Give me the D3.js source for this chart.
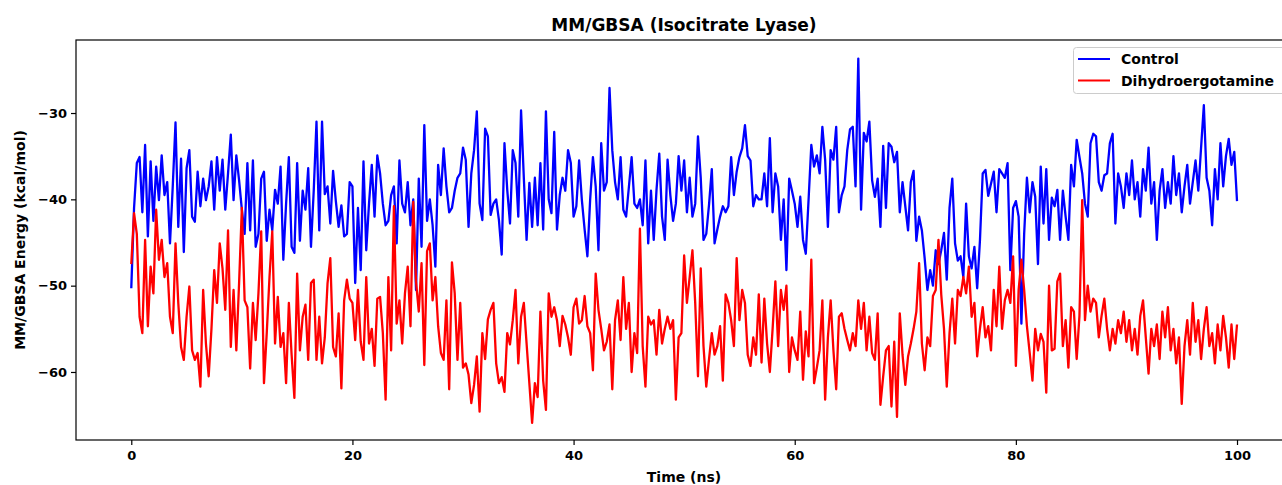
<!DOCTYPE html>
<html><head><meta charset="utf-8">
<script src="https://cdn.jsdelivr.net/npm/d3@7"></script>
<style>
body{margin:0;background:#fff}
svg{display:block}
text{font-family:"DejaVu Sans",sans-serif;font-weight:bold;fill:#000}
</style>
</head><body>
<svg id="chart" width="1282" height="485"></svg>
<script>
const titleText = "MM/GBSA (Isocitrate Lyase)";
const xLabelText = "Time (ns)";
const yLabelText = "MM/GBSA Energy (kcal/mol)";
const seriesNames = ["Control", "Dihydroergotamine"];
const seriesColors = ["#0000ff", "#ff0000"];
const timeStep = 0.25;
const xTicks = [0, 20, 40, 60, 80, 100];
const yTicks = [-30, -40, -50, -60];

const controlValues = [
-50.3,-41.0,-35.8,-35.1,-41.5,-33.7,-44.3,-35.6,-42.5,-36.2,
-40.1,-34.9,-39.5,-38.0,-45.1,-38.5,-31.1,-43.2,-35.3,-46.1,
-36.4,-34.3,-42.0,-42.6,-36.8,-40.8,-37.6,-40.1,-38.5,-35.6,
-41.2,-35.1,-39.0,-35.4,-41.2,-37.0,-32.5,-40.1,-34.9,-37.8,
-41.2,-44.0,-35.8,-43.6,-35.5,-45.5,-44.0,-37.6,-36.8,-44.8,
-41.2,-43.6,-38.9,-40.5,-36.2,-47.0,-40.5,-35.1,-45.5,-46.2,
-35.8,-44.8,-39.0,-41.2,-36.4,-45.5,-39.0,-31.0,-43.6,-31.0,
-39.4,-38.5,-42.8,-36.7,-40.2,-43.2,-40.7,-44.3,-44.0,-38.0,
-38.5,-49.7,-41.0,-48.2,-35.6,-45.9,-40.5,-36.0,-42.0,-34.9,
-37.0,-40.5,-43.0,-42.5,-39.5,-38.5,-45.1,-35.5,-40.5,-41.5,
-38.0,-43.0,-40.0,-50.5,-37.6,-45.5,-31.4,-42.5,-40.0,-43.0,
-47.8,-36.0,-39.5,-34.1,-38.5,-41.5,-41.0,-39.0,-37.5,-37.0,
-34.0,-35.4,-43.2,-37.0,-34.3,-29.8,-40.5,-42.4,-31.8,-32.7,
-41.8,-40.5,-40.0,-42.4,-46.4,-33.5,-38.9,-42.8,-34.3,-35.8,
-42.0,-29.7,-37.5,-44.7,-38.1,-43.2,-37.5,-43.0,-35.8,-43.5,
-29.8,-40.0,-41.6,-32.2,-43.5,-39.5,-37.5,-39.0,-34.3,-35.8,
-42.0,-40.8,-35.5,-40.1,-43.5,-46.6,-40.0,-35.1,-38.5,-45.9,
-33.5,-39.0,-38.0,-27.1,-34.3,-38.0,-40.0,-35.1,-41.2,-42.0,
-38.6,-35.1,-40.5,-41.0,-40.0,-43.0,-35.5,-45.1,-39.0,-44.7,
-38.9,-34.7,-42.0,-44.7,-35.4,-39.5,-42.5,-40.5,-35.0,-39.0,
-35.5,-41.5,-37.5,-42.0,-40.5,-32.7,-37.5,-44.7,-44.0,-40.6,
-36.5,-45.1,-43.5,-42.0,-40.8,-41.5,-40.8,-35.1,-39.5,-36.8,
-35.1,-34.1,-31.4,-35.0,-35.5,-40.8,-39.5,-40.0,-40.0,-37.0,
-40.8,-32.9,-41.5,-37.0,-38.5,-44.7,-40.0,-48.2,-37.6,-39.0,
-40.5,-43.2,-39.7,-44.7,-46.3,-40.1,-33.7,-36.2,-34.9,-37.0,
-31.6,-35.4,-43.2,-34.3,-35.4,-31.6,-41.5,-39.5,-38.5,-34.3,
-31.9,-31.6,-38.5,-23.7,-41.2,-32.3,-33.3,-31.0,-37.8,-39.7,
-37.6,-43.2,-33.8,-41.0,-33.5,-33.9,-35.7,-34.5,-41.5,-38.0,
-40.8,-43.6,-38.0,-36.7,-44.8,-42.0,-43.6,-46.8,-50.5,-48.2,
-50.0,-45.9,-47.5,-45.9,-43.9,-49.3,-41.0,-37.6,-45.1,-47.1,
-46.6,-49.0,-40.5,-46.6,-48.0,-45.5,-50.3,-44.8,-37.0,-36.6,
-39.6,-38.2,-36.8,-41.5,-36.5,-37.0,-37.5,-35.8,-48.2,-41.0,
-40.2,-42.0,-54.4,-44.0,-37.5,-41.5,-38.0,-39.7,-47.5,-36.2,
-42.8,-36.5,-44.7,-39.8,-40.8,-38.9,-44.7,-39.0,-42.0,-44.7,
-36.0,-38.5,-33.1,-35.1,-37.0,-40.5,-42.0,-33.5,-32.4,-32.7,
-38.0,-39.0,-37.2,-37.0,-33.5,-32.4,-42.8,-37.0,-38.5,-41.0,
-37.0,-39.5,-35.5,-40.0,-38.0,-42.0,-36.5,-39.0,-34.0,-40.5,
-38.0,-44.7,-39.0,-36.5,-41.0,-38.0,-40.5,-35.0,-39.5,-37.0,
-41.5,-38.5,-36.0,-40.5,-38.0,-35.5,-39.0,-34.0,-29.1,-37.5,
-39.0,-43.0,-36.5,-40.0,-33.5,-38.5,-35.0,-33.0,-36.0,-34.5,
-40.2
];

const dihydroergotamineValues = [
-47.5,-41.6,-44.0,-53.6,-55.5,-44.7,-54.7,-47.8,-50.9,-41.2,
-47.0,-44.7,-49.0,-47.4,-53.6,-55.5,-45.1,-52.0,-57.1,-58.6,
-53.6,-50.1,-57.5,-58.6,-57.8,-61.7,-50.5,-56.7,-60.5,-55.0,
-48.2,-52.0,-45.1,-48.0,-52.8,-43.6,-57.1,-50.5,-57.5,-49.7,
-41.0,-51.7,-52.5,-59.6,-52.0,-56.3,-50.9,-43.7,-61.3,-55.5,
-49.0,-43.7,-56.7,-51.3,-57.1,-55.5,-61.3,-52.0,-58.0,-63.0,
-48.6,-57.5,-53.6,-52.2,-58.6,-49.7,-49.3,-58.6,-53.6,-59.0,
-56.0,-49.7,-46.8,-57.1,-58.2,-53.2,-61.9,-51.7,-49.3,-51.5,
-52.0,-56.3,-50.5,-56.5,-58.6,-49.0,-56.7,-55.0,-59.3,-51.5,
-51.3,-55.5,-63.2,-49.0,-57.5,-40.8,-54.4,-51.7,-56.7,-50.9,
-47.8,-54.7,-40.3,-49.5,-53.0,-47.4,-59.2,-46.0,-45.1,-51.7,
-49.0,-54.7,-57.8,-58.6,-51.7,-62.0,-47.3,-50.9,-58.6,-52.0,
-59.5,-59.0,-60.3,-63.6,-61.5,-58.2,-64.6,-55.5,-58.5,-53.9,
-52.8,-52.0,-59.0,-61.3,-60.6,-62.3,-55.5,-56.8,-54.0,-50.5,
-59.0,-53.6,-52.0,-56.7,-61.3,-65.9,-61.3,-62.9,-53.0,-61.0,
-64.4,-50.9,-53.6,-52.5,-54.0,-57.0,-53.5,-54.5,-56.0,-58.0,
-52.5,-51.5,-54.4,-54.0,-51.2,-54.7,-55.5,-59.8,-48.6,-52.8,
-55.0,-57.5,-56.5,-54.5,-62.0,-54.0,-51.7,-56.3,-49.0,-55.0,
-52.0,-60.0,-55.5,-57.8,-43.4,-57.0,-61.7,-53.6,-54.5,-54.0,
-58.0,-52.8,-56.7,-55.0,-53.6,-55.0,-54.0,-63.2,-56.0,-55.5,
-46.5,-52.0,-49.0,-45.9,-52.0,-60.5,-48.0,-57.0,-61.7,-58.5,
-55.5,-58.0,-57.0,-54.7,-61.0,-51.0,-52.0,-54.0,-57.0,-46.8,
-54.0,-50.5,-52.0,-58.0,-59.3,-56.0,-58.0,-51.0,-58.9,-51.5,
-56.7,-60.0,-55.0,-49.5,-57.0,-50.5,-52.8,-50.0,-60.0,-56.0,
-57.5,-58.6,-53.0,-60.9,-55.3,-58.2,-47.0,-61.3,-59.5,-57.5,
-51.7,-63.2,-56.0,-51.7,-57.5,-62.0,-53.6,-53.2,-55.0,-56.3,
-57.5,-55.5,-57.0,-51.7,-55.0,-52.0,-57.5,-53.6,-57.8,-58.6,
-53.2,-63.8,-60.5,-57.5,-57.0,-64.0,-56.5,-65.2,-53.2,-58.0,
-61.5,-58.2,-56.7,-55.0,-53.0,-47.4,-56.7,-59.8,-56.0,-57.0,
-51.2,-50.5,-44.7,-51.0,-55.0,-61.7,-55.5,-51.5,-56.7,-50.5,
-51.2,-49.0,-50.9,-47.8,-53.6,-52.0,-58.2,-55.0,-52.5,-56.0,
-54.7,-57.5,-50.5,-54.7,-47.8,-55.0,-51.7,-50.5,-52.0,-46.6,
-59.3,-50.5,-47.0,-50.5,-54.7,-57.8,-61.0,-55.0,-57.5,-55.6,
-56.5,-62.4,-50.0,-57.5,-57.3,-49.5,-48.6,-57.0,-54.0,-59.5,
-52.5,-53.0,-58.5,-53.5,-40.1,-54.0,-50.0,-53.0,-51.5,-52.0,
-56.0,-53.5,-51.5,-55.0,-57.5,-55.0,-56.7,-54.0,-55.5,-53.0,
-56.5,-54.0,-57.5,-55.0,-58.0,-53.5,-51.7,-56.0,-60.2,-55.0,
-57.0,-54.5,-58.5,-53.0,-56.0,-52.5,-57.5,-55.0,-59.0,-56.0,
-63.7,-57.0,-54.0,-58.0,-52.0,-56.5,-54.0,-58.5,-55.0,-52.5,
-57.0,-55.5,-59.0,-54.5,-57.5,-53.5,-56.0,-59.5,-54.5,-58.5,
-54.5
];

const times = controlValues.map((_, i) => i * timeStep);
const seriesValues = [controlValues, dihydroergotamineValues];

const svg = d3.select("#chart");
const W = 1282, H = 485;
const plot = {left: 76, top: 40, right: 1292.3, bottom: 440};

const x = d3.scaleLinear().domain([-5, 105]).range([plot.left, plot.right]);
const y = d3.scaleLinear().domain([-67.88, -21.54]).range([plot.bottom, plot.top]);

svg.append("rect").attr("width", W).attr("height", H).attr("fill", "#fff");

svg.append("defs").append("clipPath").attr("id", "clip")
  .append("rect").attr("x", plot.left).attr("y", plot.top)
  .attr("width", plot.right - plot.left).attr("height", plot.bottom - plot.top);

const line = d3.line().x((d, i) => x(times[i])).y(d => y(d));
const lines = svg.append("g").attr("clip-path", "url(#clip)");
seriesValues.forEach((vals, k) => {
  lines.append("path").datum(vals)
    .attr("d", line)
    .attr("fill", "none")
    .attr("stroke", seriesColors[k])
    .attr("stroke-width", 2.3)
    .attr("stroke-linejoin", "round");
});

// frame
svg.append("rect").attr("x", plot.left).attr("y", plot.top)
  .attr("width", plot.right - plot.left).attr("height", plot.bottom - plot.top)
  .attr("fill", "none").attr("stroke", "#000").attr("stroke-width", 1.2);

const fmt = d => d3.format("d")(d).replace("-", "\u2212");

const xAxis = svg.append("g").attr("transform", `translate(0,${plot.bottom})`)
  .call(d3.axisBottom(x).tickValues(xTicks).tickSize(5).tickSizeOuter(0).tickPadding(6).tickFormat(fmt));
xAxis.select(".domain").remove();
xAxis.selectAll("line").attr("stroke", "#000").attr("stroke-width", 1.2);
xAxis.selectAll("text").style("font-size", "13px").style("font-family", "DejaVu Sans").style("font-weight", "bold").attr("fill", "#000");

const yAxis = svg.append("g").attr("transform", `translate(${plot.left},0)`)
  .call(d3.axisLeft(y).tickValues(yTicks).tickSize(5).tickSizeOuter(0).tickPadding(4).tickFormat(fmt));
yAxis.select(".domain").remove();
yAxis.selectAll("line").attr("stroke", "#000").attr("stroke-width", 1.2);
yAxis.selectAll("text").style("font-size", "13px").style("font-family", "DejaVu Sans").style("font-weight", "bold").attr("fill", "#000");

svg.append("text").attr("x", 684).attr("y", 31).attr("text-anchor", "middle")
  .style("font-size", "17px").text(titleText);

svg.append("text").attr("x", 684).attr("y", 482).attr("text-anchor", "middle")
  .style("font-size", "14px").text(xLabelText);

svg.append("text").attr("transform", "translate(25,240) rotate(-90)").attr("text-anchor", "middle")
  .style("font-size", "14px").text(yLabelText);

// legend
const lg = svg.append("g");
lg.append("rect").attr("x", 1073.5).attr("y", 47.5).attr("width", 240).attr("height", 46)
  .attr("rx", 3).attr("fill", "#fff").attr("fill-opacity", 0.8)
  .attr("stroke", "#cccccc").attr("stroke-width", 1);
seriesNames.forEach((name, k) => {
  const yy = 59 + k * 21.5;
  lg.append("line").attr("x1", 1078).attr("x2", 1110).attr("y1", yy).attr("y2", yy)
    .attr("stroke", seriesColors[k]).attr("stroke-width", 2);
  lg.append("text").attr("x", 1121).attr("y", yy + 5).style("font-size", "14px").text(name);
});
</script>
</body></html>
